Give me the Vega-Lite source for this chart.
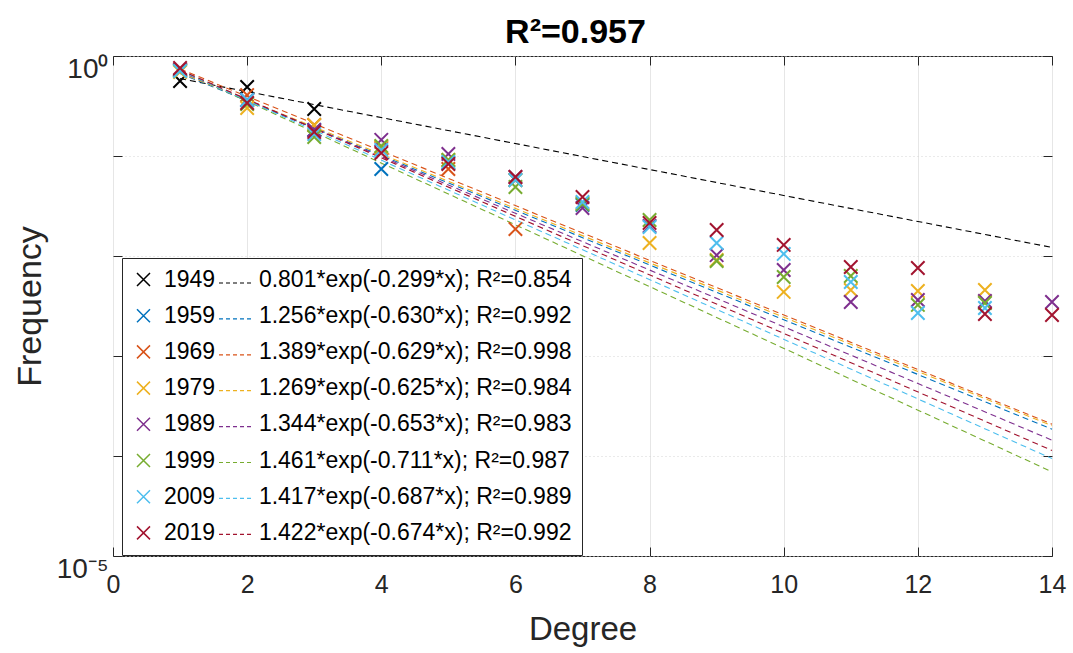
{
  "$schema": "https://vega.github.io/schema/vega-lite/v6.json",
  "width": 939,
  "height": 500,
  "autosize": "none",
  "padding": {"left": 113, "top": 56, "right": 21, "bottom": 97},
  "background": "white",
  "title": {"text": "R²=0.957", "fontSize": 34, "font": "Liberation Sans", "fontWeight": "bold", "color": "#000000", "offset": 5, "anchor": "middle", "dx": -7},
  "config": {"font": "Liberation Sans", "view": {"stroke": "#262626", "strokeWidth": 1}},
  "datasets": {
    "pts": [
      {"year": "1949", "degree": 1, "frequency": 0.562}, {"year": "1949", "degree": 2, "frequency": 0.490}, {"year": "1949", "degree": 3, "frequency": 0.295},
      {"year": "1959", "degree": 1, "frequency": 0.724}, {"year": "1959", "degree": 2, "frequency": 0.363}, {"year": "1959", "degree": 3, "frequency": 0.182}, {"year": "1959", "degree": 4, "frequency": 0.0741}, {"year": "1959", "degree": 5, "frequency": 0.0851}, {"year": "1959", "degree": 6, "frequency": 0.0575}, {"year": "1959", "degree": 7, "frequency": 0.0324},
      {"year": "1969", "degree": 1, "frequency": 0.724}, {"year": "1969", "degree": 2, "frequency": 0.407}, {"year": "1969", "degree": 3, "frequency": 0.204}, {"year": "1969", "degree": 4, "frequency": 0.120}, {"year": "1969", "degree": 5, "frequency": 0.0741}, {"year": "1969", "degree": 6, "frequency": 0.0186},
      {"year": "1979", "degree": 1, "frequency": 0.692}, {"year": "1979", "degree": 2, "frequency": 0.302}, {"year": "1979", "degree": 3, "frequency": 0.204}, {"year": "1979", "degree": 4, "frequency": 0.123}, {"year": "1979", "degree": 5, "frequency": 0.0912}, {"year": "1979", "degree": 6, "frequency": 0.0575}, {"year": "1979", "degree": 7, "frequency": 0.0339}, {"year": "1979", "degree": 8, "frequency": 0.0135}, {"year": "1979", "degree": 9, "frequency": 0.00912}, {"year": "1979", "degree": 10, "frequency": 0.00437}, {"year": "1979", "degree": 11, "frequency": 0.00457}, {"year": "1979", "degree": 12, "frequency": 0.00447}, {"year": "1979", "degree": 13, "frequency": 0.00457},
      {"year": "1989", "degree": 1, "frequency": 0.724}, {"year": "1989", "degree": 2, "frequency": 0.363}, {"year": "1989", "degree": 3, "frequency": 0.182}, {"year": "1989", "degree": 4, "frequency": 0.145}, {"year": "1989", "degree": 5, "frequency": 0.105}, {"year": "1989", "degree": 6, "frequency": 0.0617}, {"year": "1989", "degree": 7, "frequency": 0.0302}, {"year": "1989", "degree": 8, "frequency": 0.0200}, {"year": "1989", "degree": 9, "frequency": 0.0102}, {"year": "1989", "degree": 10, "frequency": 0.00724}, {"year": "1989", "degree": 11, "frequency": 0.00347}, {"year": "1989", "degree": 12, "frequency": 0.00363}, {"year": "1989", "degree": 13, "frequency": 0.00355}, {"year": "1989", "degree": 14, "frequency": 0.00347},
      {"year": "1999", "degree": 1, "frequency": 0.708}, {"year": "1999", "degree": 2, "frequency": 0.331}, {"year": "1999", "degree": 3, "frequency": 0.155}, {"year": "1999", "degree": 4, "frequency": 0.126}, {"year": "1999", "degree": 5, "frequency": 0.0912}, {"year": "1999", "degree": 6, "frequency": 0.0490}, {"year": "1999", "degree": 7, "frequency": 0.0331}, {"year": "1999", "degree": 8, "frequency": 0.0229}, {"year": "1999", "degree": 9, "frequency": 0.00891}, {"year": "1999", "degree": 10, "frequency": 0.00617}, {"year": "1999", "degree": 11, "frequency": 0.00631}, {"year": "1999", "degree": 12, "frequency": 0.00324}, {"year": "1999", "degree": 13, "frequency": 0.00339},
      {"year": "2009", "degree": 1, "frequency": 0.708}, {"year": "2009", "degree": 2, "frequency": 0.363}, {"year": "2009", "degree": 3, "frequency": 0.166}, {"year": "2009", "degree": 4, "frequency": 0.115}, {"year": "2009", "degree": 5, "frequency": 0.0871}, {"year": "2009", "degree": 6, "frequency": 0.0575}, {"year": "2009", "degree": 7, "frequency": 0.0347}, {"year": "2009", "degree": 8, "frequency": 0.0195}, {"year": "2009", "degree": 9, "frequency": 0.0135}, {"year": "2009", "degree": 10, "frequency": 0.0105}, {"year": "2009", "degree": 11, "frequency": 0.00550}, {"year": "2009", "degree": 12, "frequency": 0.00269}, {"year": "2009", "degree": 13, "frequency": 0.00302},
      {"year": "2019", "degree": 1, "frequency": 0.759}, {"year": "2019", "degree": 2, "frequency": 0.339}, {"year": "2019", "degree": 3, "frequency": 0.174}, {"year": "2019", "degree": 4, "frequency": 0.107}, {"year": "2019", "degree": 5, "frequency": 0.0832}, {"year": "2019", "degree": 6, "frequency": 0.0617}, {"year": "2019", "degree": 7, "frequency": 0.0389}, {"year": "2019", "degree": 8, "frequency": 0.0214}, {"year": "2019", "degree": 9, "frequency": 0.0182}, {"year": "2019", "degree": 10, "frequency": 0.0129}, {"year": "2019", "degree": 11, "frequency": 0.00776}, {"year": "2019", "degree": 12, "frequency": 0.00759}, {"year": "2019", "degree": 13, "frequency": 0.00263}, {"year": "2019", "degree": 14, "frequency": 0.00257}
    ],
    "fits": [
      {"year": "1949", "degree": 1, "frequency": 0.594}, {"year": "1949", "degree": 14, "frequency": 0.01218},
      {"year": "1959", "degree": 1, "frequency": 0.669}, {"year": "1959", "degree": 14, "frequency": 0.0001855},
      {"year": "1969", "degree": 1, "frequency": 0.7405}, {"year": "1969", "degree": 14, "frequency": 0.0002081},
      {"year": "1979", "degree": 1, "frequency": 0.679}, {"year": "1979", "degree": 14, "frequency": 0.0002011},
      {"year": "1989", "degree": 1, "frequency": 0.6996}, {"year": "1989", "degree": 14, "frequency": 0.000144},
      {"year": "1999", "degree": 1, "frequency": 0.7177}, {"year": "1999", "degree": 14, "frequency": 0.00006944},
      {"year": "2009", "degree": 1, "frequency": 0.7129}, {"year": "2009", "degree": 14, "frequency": 0.0000942},
      {"year": "2019", "degree": 1, "frequency": 0.7248}, {"year": "2019", "degree": 14, "frequency": 0.0001135}
    ]
  },
  "layer": [
    {
      "data": {"name": "fits"},
      "mark": {"type": "line", "strokeDash": [6, 4], "strokeWidth": 1.1},
      "encoding": {
        "x": {"field": "degree", "type": "quantitative", "scale": {"domain": [0, 14], "nice": false},
              "axis": {"orient": "top", "values": [0, 2, 4, 6, 8, 10, 12, 14], "labels": false, "grid": false, "domain": false, "tickSize": -9, "tickColor": "#262626", "title": null}},
        "y": {"field": "frequency", "type": "quantitative", "scale": {"type": "log", "domain": [0.00001, 1], "nice": false},
              "axis": {"orient": "right", "values": [1, 0.1, 0.01, 0.001, 0.0001, 0.00001], "labels": false, "grid": false, "domain": false, "tickSize": -9, "tickColor": "#262626", "title": null}},
        "color": {"field": "year", "type": "nominal",
                  "scale": {"domain": ["1949", "1959", "1969", "1979", "1989", "1999", "2009", "2019"], "range": ["#000000", "#0072BD", "#D95319", "#EDB120", "#7E2F8E", "#77AC30", "#4DBEEE", "#A2142F"]},
                  "legend": {"orient": "none", "legendX": 105, "legendY": 209.5, "padding": 0, "title": null, "symbolType": "stroke", "symbolSize": 1089, "symbolStrokeWidth": 1.2, "symbolDash": [4, 3], "rowPadding": 7.9, "labelExpr": "''", "labelFontSize": 21, "zindex": 2}}
      }
    },
    {
      "data": {"name": "pts"},
      "mark": {"type": "point", "shape": "M-1,-1L1,1M-1,1L1,-1", "filled": false, "strokeWidth": 2, "size": 180, "opacity": 1},
      "encoding": {
        "x": {"field": "degree", "type": "quantitative", "scale": {"domain": [0, 14], "nice": false},
              "axis": {"orient": "bottom", "values": [0, 2, 4, 6, 8, 10, 12, 14], "grid": true, "gridColor": "#e6e6e6", "domain": false, "tickSize": -9, "tickColor": "#262626", "labelFlush": false, "labelOverlap": false, "labelFontSize": 25, "labelColor": "#262626", "labelPadding": 25, "title": "Degree", "titleFontSize": 33, "titleFontWeight": "normal", "titleColor": "#262626", "titlePadding": 16}},
        "y": {"field": "frequency", "type": "quantitative", "scale": {"type": "log", "domain": [0.00001, 1], "nice": false},
              "axis": {"orient": "left", "values": [1, 0.1, 0.01, 0.001, 0.0001, 0.00001], "grid": true, "gridColor": "#d4d4d4", "gridDash": [1, 3], "domain": false, "tickSize": -9, "tickColor": "#262626", "labelOverlap": false, "labelExpr": "datum.value >= 0.5 ? '10⁰' : (datum.value <= 0.00002 ? '10⁻⁵' : '')", "labelFontSize": 28, "labelColor": "#262626", "labelBaseline": "alphabetic", "labelOffset": 21, "labelPadding": 14, "title": "Frequency", "titleFontSize": 34, "titleFontWeight": "normal", "titleColor": "#262626", "titlePadding": 9}},
        "color": {"field": "year", "type": "nominal",
                  "scale": {"domain": ["1949", "1959", "1969", "1979", "1989", "1999", "2009", "2019"], "range": ["#000000", "#0072BD", "#D95319", "#EDB120", "#7E2F8E", "#77AC30", "#4DBEEE", "#A2142F"]},
                  "legend": {"orient": "none", "legendX": 9, "legendY": 202, "padding": 10, "title": null, "strokeColor": "#262626", "fillColor": "white", "symbolType": "M-1,-1L1,1M-1,1L1,-1", "symbolSize": 169, "symbolStrokeWidth": 1.5, "rowPadding": 12.2, "labelOffset": 9, "labelLimit": 0, "labelFontSize": 23, "labelColor": "#000000", "zindex": 1,
                             "labelExpr": "datum.label == '1949' ? '1949\u2003\u2002\u2009\u20090.801*exp(-0.299*x); R²=0.854' : datum.label == '1959' ? '1959\u2003\u2002\u2009\u20091.256*exp(-0.630*x); R²=0.992' : datum.label == '1969' ? '1969\u2003\u2002\u2009\u20091.389*exp(-0.629*x); R²=0.998' : datum.label == '1979' ? '1979\u2003\u2002\u2009\u20091.269*exp(-0.625*x); R²=0.984' : datum.label == '1989' ? '1989\u2003\u2002\u2009\u20091.344*exp(-0.653*x); R²=0.983' : datum.label == '1999' ? '1999\u2003\u2002\u2009\u20091.461*exp(-0.711*x); R²=0.987' : datum.label == '2009' ? '2009\u2003\u2002\u2009\u20091.417*exp(-0.687*x); R²=0.989' : '2019\u2003\u2002\u2009\u20091.422*exp(-0.674*x); R²=0.992'"}}
      }
    }
  ],
  "resolve": {"scale": {"color": "independent"}, "axis": {"x": "independent", "y": "independent"}}
}
